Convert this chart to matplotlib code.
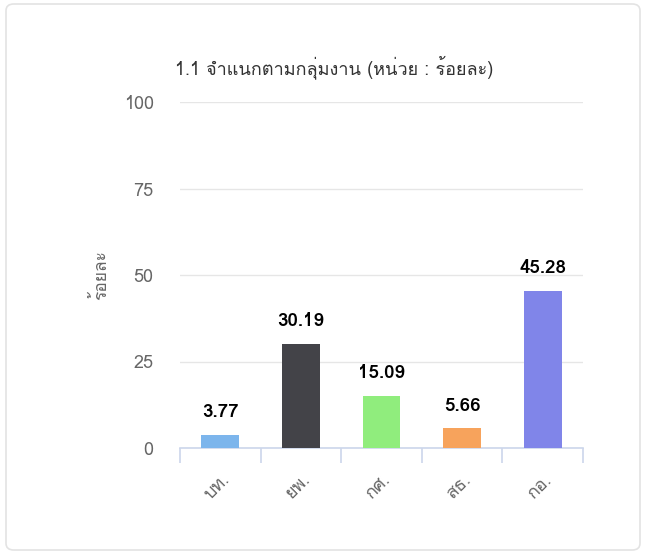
import matplotlib
matplotlib.use("Agg")
import matplotlib.pyplot as plt
from matplotlib import font_manager
from matplotlib.ft2font import FT2Font
from matplotlib.patches import FancyBboxPatch

categories = ["บท.", "ยพ.", "กศ.", "สธ.", "กอ."]
values = [3.77, 30.19, 15.09, 5.66, 45.28]
colors = ["#7cb5ec", "#434348", "#90ed7d", "#f7a35c", "#8085e9"]
yticks = [0, 25, 50, 75, 100]
title = "1.1 จำแนกตามกลุ่มงาน (หน่วย : ร้อยละ)"
ylabel = "ร้อยละ"


def find_thai_font():
    # look for any installed font that has Thai glyphs
    for f in font_manager.fontManager.ttflist:
        try:
            if 0x0E08 in FT2Font(f.fname).get_charmap():
                return f.name
        except Exception:
            pass
    return None


thai = find_thai_font()
families = ([thai] if thai else []) + ["DejaVu Sans"]
plt.rcParams["font.family"] = families

fig = plt.figure(figsize=(6.47, 5.54), dpi=100)

# card background
card = FancyBboxPatch((6 / 647, 4 / 554), 634 / 647, 546 / 554,
                      boxstyle="round,pad=0,rounding_size=0.012",
                      transform=fig.transFigure, facecolor="white",
                      edgecolor="#e3e3e3", linewidth=1.2, zorder=-10)
fig.patches.append(card)

ax = fig.add_axes([180 / 647, 1 - 448 / 554, 403 / 647, 346 / 554])
ax.set_facecolor("none")
ax.set_zorder(5)

x = range(len(categories))
ax.bar(x, values, width=0.47, color=colors, zorder=3)
for i, v in enumerate(values):
    ax.annotate("%.2f" % v, (i, v), xytext=(0, 10), textcoords="offset points",
                ha="center", va="bottom", fontsize=13.5, fontweight="bold",
                color="black", zorder=4)

ax.set_xlim(-0.5, 4.5)
ax.set_ylim(0, 100)
ax.set_yticks(yticks)
ax.set_yticklabels([str(t) for t in yticks], fontsize=13, color="#666666")
ax.tick_params(axis="y", length=0, pad=19)
ax.grid(axis="y", color="#e6e6e6", linewidth=1, zorder=0)

ax.set_xticks(list(x))
ax.set_xticklabels(categories, rotation=45, ha="right", rotation_mode="anchor",
                   fontsize=13, color="#666666")
ax.tick_params(axis="x", which="major", length=0, pad=16)
ax.set_xticks([i - 0.5 for i in range(len(categories) + 1)], minor=True)
ax.tick_params(axis="x", which="minor", length=11, width=1.2, color="#ccd6eb")

for s in ["top", "right", "left"]:
    ax.spines[s].set_visible(False)
ax.spines["bottom"].set_color("#ccd6eb")
ax.spines["bottom"].set_linewidth(1.2)

ax.set_ylabel(ylabel, fontsize=12.5, color="#666666", labelpad=10)

fig.text(175 / 647, 1 - 67 / 554, title, fontsize=13, color="#333333",
         ha="left", va="center")

plt.savefig("out.png", dpi=100)
